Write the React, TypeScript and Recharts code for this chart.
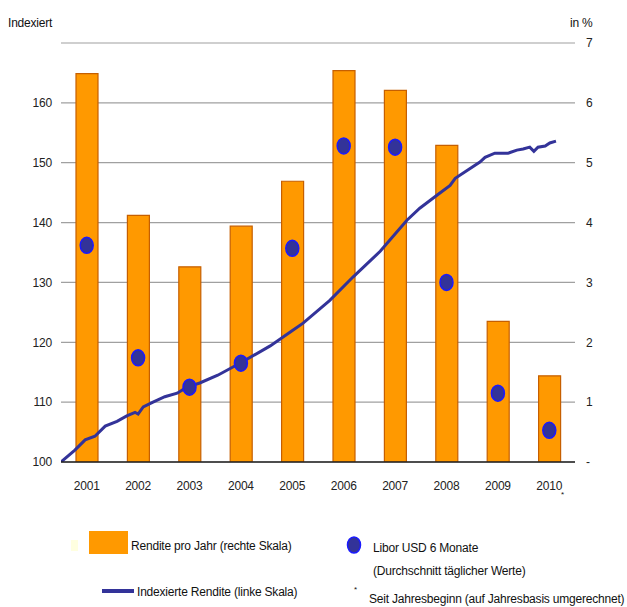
import {
  ComposedChart,
  Bar,
  Line,
  Scatter,
  XAxis,
  YAxis,
  CartesianGrid,
} from "recharts";

const years = ["2001", "2002", "2003", "2004", "2005", "2006", "2007", "2008", "2009", "2010"];
// Rendite pro Jahr in % (rechte Skala)
const renditeProJahr = [6.49, 4.12, 3.26, 3.94, 4.69, 6.54, 6.21, 5.29, 2.35, 1.44];
// Libor USD 6 Monate, Durchschnitt in %
const liborUsd6M = [3.62, 1.74, 1.25, 1.65, 3.57, 5.28, 5.26, 3.0, 1.15, 0.53];

// Indexierte Rendite (linke Skala), Zeitpunkt als Jahresbruchteil
const indexTime = [
  2001.0, 2001.27, 2001.47, 2001.66, 2001.86, 2002.09, 2002.28, 2002.44, 2002.5, 2002.6,
  2002.79, 2003.02, 2003.26, 2003.45, 2003.7, 2004.05, 2004.48, 2005.07, 2005.51, 2005.71,
  2006.23, 2006.68, 2007.21, 2007.73, 2007.98, 2008.32, 2008.57, 2008.67, 2008.9, 2009.15,
  2009.25, 2009.44, 2009.7, 2009.87, 2009.99, 2010.12, 2010.2, 2010.28, 2010.42, 2010.51,
  2010.63,
];
const indexValue = [
  100.0, 102.0, 103.7, 104.3, 106.0, 106.8, 107.7, 108.3, 108.0, 109.2,
  110.0, 110.9, 111.5, 112.5, 113.2, 114.5, 116.5, 119.4, 122.0, 123.2,
  127.0, 130.9, 135.2, 140.4, 142.4, 144.6, 146.2, 147.4, 148.7, 150.1,
  150.9, 151.6, 151.6, 152.1, 152.3, 152.6, 151.9, 152.6, 152.8, 153.3,
  153.6,
];

const leftTicks = [100, 110, 120, 130, 140, 150, 160];
const rightTicks = [0, 1, 2, 3, 4, 5, 6, 7];

const barData = years.map((year, i) => ({
  year,
  rendite: renditeProJahr[i],
  libor: liborUsd6M[i],
}));
const lineData = indexTime.map((t, i) => ({ t, idx: indexValue[i] }));

const FONT = '"Liberation Sans", Arial, sans-serif';
const NAVY = "#333399";

const LiborDot = (props: any) => {
  const { cx, cy } = props;
  if (cx == null || cy == null) return null;
  return <ellipse cx={cx} cy={cy} rx={6.5} ry={8} fill={NAVY} stroke="#1a1aff" strokeWidth={1.5} />;
};

const txt: React.CSSProperties = {
  position: "absolute",
  fontFamily: FONT,
  fontSize: 12,
  color: "#111",
  letterSpacing: -0.2,
  whiteSpace: "nowrap",
  lineHeight: "14px",
};

export default function App() {
  return (
    <div style={{ position: "absolute", left: 0, top: 0, width: 627, height: 607, background: "#fff", overflow: "hidden" }}>
      <ComposedChart
        width={627}
        height={607}
        data={barData}
        margin={{ top: 43, right: 0, bottom: 115, left: 0 }}
      >
        <CartesianGrid yAxisId="right" vertical={false} stroke="#a0a0a0" strokeWidth={1.2} />
        <XAxis
          xAxisId="cat"
          dataKey="year"
          height={30}
          tickLine={false}
          tickSize={0}
          tickMargin={19}
          axisLine={{ stroke: "#222", strokeWidth: 1.5 }}
          tick={{ fontSize: 12, fill: "#222", fontFamily: FONT, letterSpacing: -0.2 }}
        />
        <XAxis xAxisId="t" type="number" dataKey="t" domain={[2001, 2011]} allowDataOverflow hide />
        <YAxis
          yAxisId="left"
          orientation="left"
          width={61}
          domain={[100, 170]}
          ticks={leftTicks}
          allowDataOverflow
          axisLine={false}
          tickLine={false}
          tickSize={0}
          tickMargin={9}
          tick={{ fontSize: 12, fill: "#222", fontFamily: FONT, letterSpacing: -0.2 }}
        />
        <YAxis
          yAxisId="right"
          orientation="right"
          width={52}
          domain={[0, 7]}
          ticks={rightTicks}
          allowDataOverflow
          axisLine={false}
          tickLine={false}
          tickSize={0}
          tickMargin={11}
          tickFormatter={(v: number) => (v === 0 ? "-" : String(v))}
          tick={{ fontSize: 12, fill: "#222", fontFamily: FONT }}
        />
        <Bar
          xAxisId="cat"
          yAxisId="right"
          dataKey="rendite"
          barSize={22}
          fill="#FF9900"
          stroke="#C65F00"
          strokeWidth={1.2}
          isAnimationActive={false}
        />
        <Line
          xAxisId="t"
          yAxisId="left"
          data={lineData}
          dataKey="idx"
          type="linear"
          stroke={NAVY}
          strokeWidth={3}
          dot={false}
          activeDot={false}
          isAnimationActive={false}
        />
        <Scatter
          xAxisId="cat"
          yAxisId="right"
          dataKey="libor"
          shape={<LiborDot />}
          isAnimationActive={false}
        />
      </ComposedChart>

      <div style={{ ...txt, left: 8, top: 16 }}>Indexiert</div>
      <div style={{ ...txt, left: 570, top: 16 }}>in %</div>
      <div style={{ ...txt, left: 561, top: 488, fontSize: 8 }}>*</div>

      {/* Legende */}
      <div style={{ position: "absolute", left: 71, top: 540, width: 7, height: 11, background: "#FFFFE0" }} />
      <div style={{ position: "absolute", left: 89, top: 531, width: 39, height: 23, background: "#FF9900" }} />
      <div style={{ ...txt, left: 131, top: 539 }}>Rendite pro Jahr (rechte Skala)</div>

      <div style={{ position: "absolute", left: 102, top: 589, width: 32, height: 4, background: NAVY }} />
      <div style={{ ...txt, left: 137, top: 585 }}>Indexierte Rendite (linke Skala)</div>

      <svg style={{ position: "absolute", left: 346, top: 535 }} width={16} height={20}>
        <ellipse cx={8} cy={10} rx={6.5} ry={8} fill={NAVY} stroke="#1a1aff" strokeWidth={1.5} />
      </svg>
      <div style={{ ...txt, left: 373, top: 541 }}>Libor USD 6 Monate</div>
      <div style={{ ...txt, left: 373, top: 564 }}>(Durchschnitt täglicher Werte)</div>

      <div style={{ ...txt, left: 354, top: 583, fontSize: 8 }}>*</div>
      <div style={{ ...txt, left: 369, top: 592 }}>Seit Jahresbeginn (auf Jahresbasis umgerechnet)</div>
    </div>
  );
}
